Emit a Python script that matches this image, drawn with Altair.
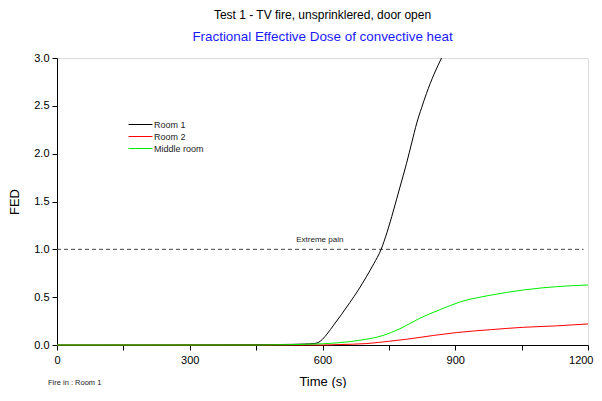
import altair as alt
import pandas as pd

# Data
room1_t = [0, 500, 560, 580, 590, 600, 612, 624, 643, 662, 681, 700, 716, 732, 746, 760, 775, 790, 802, 813, 824, 835, 852, 869]
room1_v = [0, 0.005, 0.01, 0.015, 0.025, 0.06, 0.125, 0.2, 0.32, 0.445, 0.575, 0.72, 0.85, 0.995, 1.18, 1.40, 1.65, 1.90, 2.12, 2.32, 2.48, 2.63, 2.83, 3.0]

room2_t = [0, 600, 640, 700, 752, 790, 851, 903, 979, 1054, 1129, 1200]
room2_v = [0, 0.0, 0.005, 0.015, 0.04, 0.06, 0.10, 0.13, 0.16, 0.185, 0.20, 0.22]

mid_t = [0, 450, 520, 560, 600, 640, 685, 737, 775, 820, 866, 911, 979, 1054, 1129, 1200]
mid_v = [0, 0, 0.003, 0.007, 0.013, 0.025, 0.05, 0.10, 0.17, 0.28, 0.37, 0.45, 0.52, 0.575, 0.61, 0.627]

series_names = ["Room 1", "Room 2", "Middle room"]
series_colors = ["#000000", "#ff0000", "#00ee00"]

threshold_value = 1.0
threshold_t = [0, 1190]
threshold_label = "Extreme pain"
label_t = 594
label_v = 1.06

x_ticks = [0, 150, 300, 450, 600, 750, 900, 1050, 1200]
y_ticks = [0, 0.25, 0.5, 0.75, 1.0, 1.25, 1.5, 1.75, 2.0, 2.25, 2.5, 2.75, 3.0]

rows = []
for name, ts, vs in [("Room 1", room1_t, room1_v), ("Room 2", room2_t, room2_v), ("Middle room", mid_t, mid_v)]:
    for t, v in zip(ts, vs):
        rows.append({"series": name, "t": t, "v": v, "order": series_names.index(name)})
df = pd.DataFrame(rows)

W, H = 531, 287

xscale = alt.Scale(domain=[0, 1200], nice=False)
yscale = alt.Scale(domain=[0, 3.0], nice=False)

xaxis = alt.Axis(values=x_ticks, labelExpr="datum.value % 300 == 0 ? datum.label : ''",
                 format="d", title="Time (s)", titleFontSize=13, titleFontWeight="normal",
                 titlePadding=10, labelFontSize=11, tickSize=5, labelPadding=4,
                 labelAlign={"condition": {"test": "datum.value == 1200", "value": "right"}, "value": "center"},
                 labelOffset={"condition": {"test": "datum.value == 1200", "value": 5}, "value": 0},
                 domainColor="#000", tickColor="#000", labelColor="#000", titleColor="#000",
                 grid=False, labelFlush=False)
yaxis = alt.Axis(values=y_ticks, labelExpr="(datum.value * 2) % 1 == 0 ? format(datum.value, '.1f') : ''",
                 title="FED", titleFontSize=13, titleFontWeight="normal", titlePadding=12,
                 labelFontSize=11, tickSize=5, labelPadding=3,
                 domainColor="#000", tickColor="#000", labelColor="#000", titleColor="#000",
                 grid=False)

lines = alt.Chart(df).mark_line(strokeWidth=1, interpolate="monotone").encode(
    x=alt.X("t:Q", scale=xscale, axis=xaxis),
    y=alt.Y("v:Q", scale=yscale, axis=yaxis),
    color=alt.Color("series:N", scale=alt.Scale(domain=series_names, range=series_colors),
                    sort=series_names,
                    legend=alt.Legend(title=None, orient="none", legendX=77, legendY=60,
                                      symbolType="M-2.1,0H2.1", symbolSize=130, symbolStrokeWidth=1,
                                      symbolFillColor="transparent",
                                      labelFontSize=9, labelColor="#222", rowPadding=0,
                                      labelOffset=7, padding=0)),
    order="order:Q",
    detail="series:N",
)

thr_df = pd.DataFrame({"t": [threshold_t[0]], "t2": [threshold_t[1]], "v": [threshold_value]})
rule = alt.Chart(thr_df).mark_rule(strokeDash=[4, 3], color="#444", strokeWidth=1).encode(
    x=alt.X("t:Q", scale=xscale), x2="t2:Q", y=alt.Y("v:Q", scale=yscale)
)

lab_df = pd.DataFrame({"t": [label_t], "v": [label_v], "text": [threshold_label]})
label = alt.Chart(lab_df).mark_text(fontSize=8, color="#222", baseline="bottom", align="center",
                                     font="Liberation Sans").encode(
    x=alt.X("t:Q", scale=xscale), y=alt.Y("v:Q", scale=yscale), text="text:N"
)

foot_df = pd.DataFrame({"text": ["Fire in : Room 1"]})
foot = alt.Chart(foot_df).mark_text(fontSize=7.5, color="#222", align="left", baseline="bottom",
                                     font="Liberation Sans").encode(
    x=alt.value(-9), y=alt.value(H + 42), text="text:N"
)

chart = alt.layer(rule, label, lines, foot).properties(
    width=W, height=H,
    title=alt.TitleParams(
        text="Test 1 - TV fire, unsprinklered, door open",
        subtitle="Fractional Effective Dose of convective heat",
        fontSize=12, fontWeight="normal", color="#000", font="Liberation Sans",
        subtitleFontSize=13.4, subtitleColor="#1a1aff", subtitleFont="Liberation Sans",
        subtitlePadding=8, offset=8, anchor="middle"
    ),
    autosize=alt.AutoSizeParams(type="none"),
    padding={"left": 49, "top": 50, "right": 6, "bottom": 43},
).configure_view(stroke=None).configure(font="Liberation Sans")

chart.save("out.html", embed_options={"renderer": "svg", "actions": False})
